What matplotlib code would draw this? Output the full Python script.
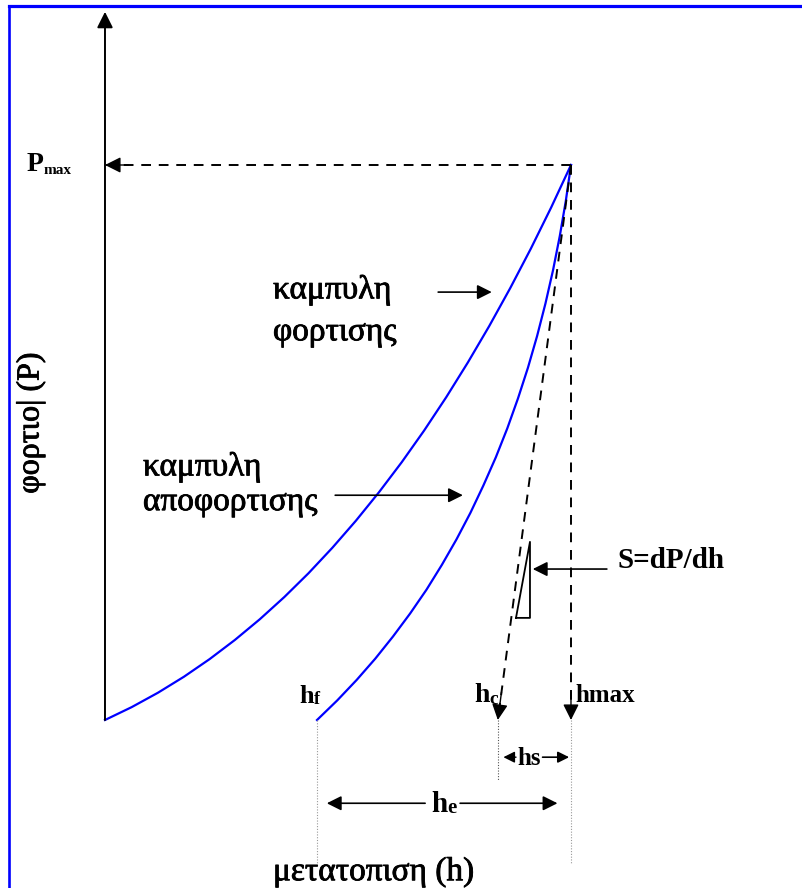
import matplotlib
matplotlib.use('Agg')
import matplotlib.pyplot as plt
import matplotlib.patheffects as pe
from matplotlib.lines import Line2D

# curves, h and P given as % of h_max / P_max
h_load = [0, 5.73, 11.38, 16.95, 22.45, 27.87, 33.22, 38.49, 43.68, 48.79, 53.83,
          58.79, 63.68, 68.49, 73.22, 77.87, 82.45, 86.95, 91.38, 95.73, 100]
P_load = [0, 2.32, 4.92, 7.80, 10.97, 14.42, 18.15, 22.16, 26.45, 31.03, 35.89,
          41.03, 46.45, 52.16, 58.15, 64.42, 70.97, 77.80, 84.92, 92.32, 100]
h_unload = [45.5, 49.84, 54.0, 58.0, 61.8, 65.48, 69.0, 72.29, 75.44, 78.42, 81.2,
            83.87, 86.34, 88.63, 90.77, 92.73, 94.52, 96.15, 97.6, 98.89, 100]
P_unload = [0, 3.53, 7.21, 11.05, 15.04, 19.19, 23.49, 27.95, 32.56, 37.33, 42.25,
            47.33, 52.56, 57.95, 63.49, 69.19, 75.04, 81.05, 87.21, 93.53, 100]

h_f = 45.5
h_c = 84.3
h_max = 100
P_max = 100

# little slope triangle beside the tangent line
tri_h = [88.2, 91.2, 91.2, 88.2]
tri_P = [18.4, 18.4, 32.1, 18.4]

FONT = 'Liberation Serif'
BLUE = '#0000ff'
plt.rcParams['font.family'] = [FONT, 'DejaVu Serif']
# greek text in the sketch is a bit heavier than the regular face
heavy = [pe.withStroke(linewidth=0.6, foreground='k')]


def arrow(ax, tail, tip, ms=20, lw=1.3):
    ax.annotate('', xy=tip, xytext=tail,
                arrowprops=dict(arrowstyle='-|>', mutation_scale=ms, lw=lw,
                                color='k', shrinkA=0, shrinkB=0))


def dashed_arrow(ax, tail, tip, ms=24):
    ax.plot([tail[0], tip[0]], [tail[1], tip[1]], color='k', lw=1.4,
            ls=(0, (5, 4)))
    # head only, put it on with a tiny solid stub
    stub = (tip[0] + (tail[0] - tip[0]) * 0.05, tip[1] + (tail[1] - tip[1]) * 0.05)
    arrow(ax, stub, tip, ms=ms, lw=1.0)


def hlabel(ax, x, y, main, sub, size, subsize, weight='bold'):
    t = ax.text(x, y, main, fontsize=size, ha='left', va='baseline', weight=weight)
    ax.annotate(sub, xy=(1, 0), xycoords=t, fontsize=subsize,
                ha='left', va='bottom', weight=weight)


fig = plt.figure(figsize=(8.03, 8.88), dpi=100)
ax = fig.add_axes([0, 0, 1, 1])
ax.set_xlim(-22.53, 149.79)
ax.set_ylim(-30.27, 129.73)
ax.axis('off')

# frame lines of the original picture
fig.add_artist(Line2D([9 / 803, 1], [1 - 6.5 / 888, 1 - 6.5 / 888], color=BLUE, lw=2.3))
fig.add_artist(Line2D([9 / 803, 9 / 803], [0, 1 - 6.5 / 888], color=BLUE, lw=1.9))

# axes
arrow(ax, (0, 0), (0, 127.6), ms=24, lw=1.4)
arrow(ax, (0, 0), (150.5, 0), ms=24, lw=1.4)

# curves
ax.plot(h_load, P_load, color=BLUE, lw=1.6)
ax.plot(h_unload, P_unload, color=BLUE, lw=1.6)

# dashed guides from the peak
dashed_arrow(ax, (h_max, P_max), (0, P_max))
dashed_arrow(ax, (h_max, P_max), (h_max, 0))
dashed_arrow(ax, (h_max, P_max), (h_c, 0))

# dotted drop lines
ax.plot([h_f, h_f], [0, -26.3], color='#999999', lw=0.8, ls=(0, (1, 1.5)))
ax.plot([h_max, h_max], [0, -26.0], color='#999999', lw=0.8, ls=(0, (1, 1.5)))
ax.plot([h_c, h_c], [0, -10.8], color='#555555', lw=0.8, ls=(0, (1, 1.5)))

ax.plot(tri_h, tri_P, color='k', lw=1.3)

# text
ax.text(36.05, 77.5, 'καμπυλη', fontsize=24, va='center', path_effects=heavy)
ax.text(36.05, 69.9, 'φορτισης', fontsize=24, va='center', path_effects=heavy)
arrow(ax, (71.5, 77.1), (83.0, 77.1), ms=22, lw=1.2)

ax.text(8.15, 45.6, 'καμπυλη', fontsize=24, va='center', path_effects=heavy)
ax.text(8.15, 39.3, 'αποφορτισης', fontsize=24, va='center', path_effects=heavy)
arrow(ax, (49.4, 40.5), (76.8, 40.5), ms=22, lw=1.2)

ax.text(109.9, 28.8, 'S=dP/dh', fontsize=21, va='center', weight='bold')
arrow(ax, (107.7, 27.2), (91.8, 27.2), ms=22, lw=1.2)

ax.text(-15.9, 53.5, 'φορτιο| (P)', fontsize=23, rotation=90, ha='center',
        va='center', path_effects=heavy)
ax.text(36.05, -27.4, 'μετατοπιση (h)', fontsize=24, va='center', path_effects=heavy)

hlabel(ax, -16.9, 99.0, 'P', 'max', 20, 11)
hlabel(ax, 41.7, 3.0, 'h', 'f', 19, 13)
hlabel(ax, 79.2, 3.2, 'h', 'c', 20, 14)
ax.text(100.9, 3.2, 'hmax', fontsize=18, va='baseline', weight='bold')
ax.text(88.6, -8.1, 'hs', fontsize=18, va='baseline', weight='bold')
hlabel(ax, 70.0, -16.6, 'h', 'e', 21, 15)

# hs and he span arrows
arrow(ax, (88.2, -6.7), (85.5, -6.7), ms=17, lw=1.0)
arrow(ax, (93.9, -6.7), (99.6, -6.7), ms=17, lw=1.2)
arrow(ax, (68.7, -15.0), (47.6, -15.0), ms=22, lw=1.2)
arrow(ax, (76.2, -15.0), (97.1, -15.0), ms=22, lw=1.2)

fig.savefig('out.png', dpi=100)
